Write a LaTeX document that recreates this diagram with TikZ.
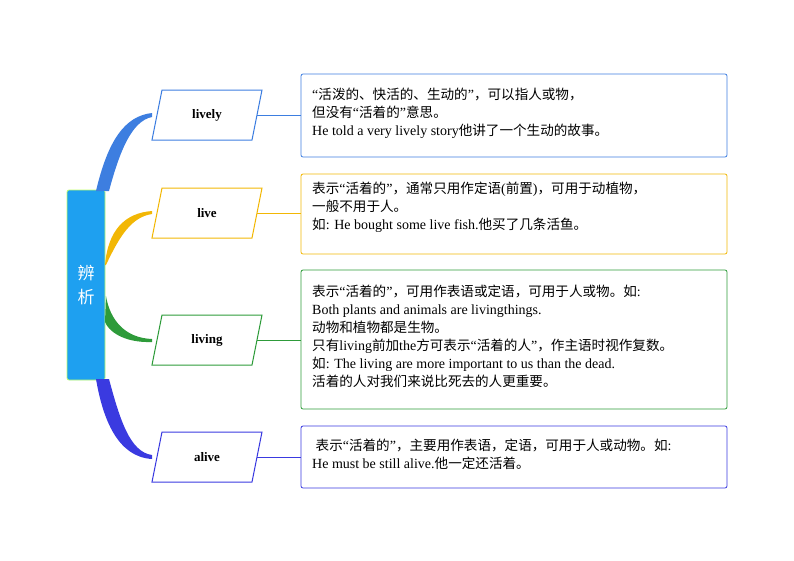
\documentclass[tikz,border=0pt]{standalone}
\usepackage{fontspec}
\usetikzlibrary{fit}
\setmainfont{Liberation Serif}
\newfontfamily\cjk[Scale=0.97]{Noto Sans CJK SC}
\newfontfamily\cjkb{Noto Sans CJK SC}
\newcommand{\zh}[1]{{\cjk #1}}
\begin{document}
\begin{tikzpicture}[x=1pt,y=-1pt,
  word/.style={font=\bfseries\fontsize{13}{15}\selectfont},
  infobox/.style={draw=#1,line width=0.8pt,rounded corners=2pt,inner sep=0pt},
  infotext/.style={anchor=north west,text width=414pt,inner sep=0pt,align=flush left,font=\fontsize{14}{18}\selectfont}]
\useasboundingbox (0,0) rectangle (794,560);
\definecolor{cA}{HTML}{3D7EE0}\definecolor{cB}{HTML}{F2B705}
\definecolor{cC}{HTML}{2E9B3A}\definecolor{cD}{HTML}{3A3AE0}
\definecolor{cM}{HTML}{1EA0F0}
% center
\node[fill=cM,draw=green!40!yellow!60,line width=0.8pt,rounded corners=2pt,minimum width=38pt,minimum height=190pt,text=white,font=\cjkb\fontsize{17}{24}\selectfont,align=center] (m) at (86,285) {辨\\析};
% tapered branches
\fill[cA] (96,191) .. controls (108,140) and (125,116) .. (152,113) -- (152,117) .. controls (132,121) and (120,150) .. (109,191) -- cycle;
\fill[cB] (105,265) .. controls (108,230) and (125,213) .. (152,211) -- (152,214) .. controls (132,217) and (120,235) .. (106,265) -- cycle;
\fill[cC] (106,296) .. controls (110,320) and (125,338) .. (152,339) -- (152,342) .. controls (122,343) and (108,330) .. (105,322) -- cycle;
\fill[cD] (96,379) .. controls (103,420) and (118,457) .. (152,459) -- (152,455) .. controls (130,452) and (120,420) .. (109,379) -- cycle;
% words
\foreach \n/\y/\c/\t in {a/115/cA/lively,b/213/cB/live,c/340/cC/living,d/457/cD/alive}{
  \draw[\c,line width=1pt] (162,\y-25) -- (262,\y-25) -- (252,\y+25) -- (152,\y+25) -- cycle;
  \node[word] (w\n) at (207,\y) {\t};
  \coordinate (r\n) at (257,\y);
}
% boxes
\node[infobox=cA,fit={(301,74)(727,157)}] (ba) {};
\node[infobox=cB,fit={(301,174)(727,254)}] (bb) {};
\node[infobox=cC,fit={(301,270)(727,409)}] (bc) {};
\node[infobox=cD,fit={(301,426)(727,488)}] (bd) {};
\node[infotext] (ta) at (312,88) {“\zh{活泼的、快活的、生动的}”\zh{，可以指人或物，}\\\zh{但没有}“\zh{活着的}”\zh{意思。}\\He told a very lively story\zh{他讲了一个生动的故事。}};
\node[infotext] (tb) at (312,182) {\zh{表示}“\zh{活着的}”\zh{，通常只用作定语}(\zh{前置})\zh{，可用于动植物，}\\\zh{一般不用于人。}\\\zh{如}: He bought some live fish.\zh{他买了几条活鱼。}};
\node[infotext] (tc) at (312,285) {\zh{表示}“\zh{活着的}”\zh{，可用作表语或定语，可用于人或物。如}:\\Both plants and animals are livingthings.\\\zh{动物和植物都是生物。}\\\zh{只有}living\zh{前加}the\zh{方可表示}“\zh{活着的人}”\zh{，作主语时视作复数。}\\\zh{如}: The living are more important to us than the dead.\\\zh{活着的人对我们来说比死去的人更重要。}};
\node[infotext] (td) at (312,439) {~\zh{表示}“\zh{活着的}”\zh{，主要用作表语，定语，可用于人或动物。如}:\\He must be still alive.\zh{他一定还活着。}};
\draw[cA,line width=1pt] (ra) -- (ra -| ba.west);
\draw[cB,line width=1pt] (rb) -- (rb -| bb.west);
\draw[cC,line width=1pt] (rc) -- (rc -| bc.west);
\draw[cD,line width=1pt] (rd) -- (rd -| bd.west);
\end{tikzpicture}
\end{document}
